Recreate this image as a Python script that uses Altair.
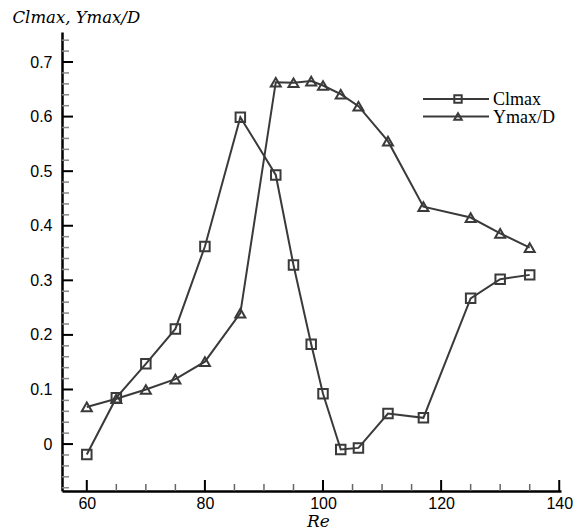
import altair as alt
import pandas as pd

re_vals = [60, 65, 70, 75, 80, 86, 92, 95, 98, 100, 103, 106, 111, 117, 125, 130, 135]
clmax = [-0.019, 0.085, 0.147, 0.211, 0.362, 0.599, 0.493, 0.328, 0.183, 0.092,
         -0.010, -0.007, 0.056, 0.048, 0.267, 0.302, 0.310]
ymax_d = [0.068, 0.083, 0.100, 0.119, 0.151, 0.240, 0.663, 0.662, 0.665, 0.657,
          0.641, 0.619, 0.555, 0.435, 0.415, 0.386, 0.360]

x_major = [60, 80, 100, 120, 140]
x_minor = [65, 70, 75, 85, 90, 95, 105, 110, 115, 125, 130, 135]
y_major = [0.0, 0.1, 0.2, 0.3, 0.4, 0.5, 0.6, 0.7]
y_minor = [v / 100 for v in range(-8, 76, 2) if v % 10 != 0]

series_names = ["Clmax", "Ymax/D"]

W, H = 499, 459
INK = "#3a3a3a"
SERIF = "Liberation Serif"
SERIF_IT = "DejaVu Serif"

xscale = alt.Scale(domain=[55.8, 140.3], nice=False, zero=False)
yscale = alt.Scale(domain=[-0.086, 0.755], nice=False, zero=False)

x_axis = alt.Axis(
    values=x_major, ticks=False, grid=False, domainColor="black", domainWidth=2.5,
    labelFont="Liberation Sans", labelFontSize=16, labelColor="black", labelPadding=4,
    title="Re", titleFont=SERIF_IT, titleFontStyle="italic",
    titleFontWeight="normal", titleFontSize=17, titleColor="black",
    titleX=256, titleY=30, titleBaseline="middle", titleAlign="center",
)
y_axis = alt.Axis(
    values=y_major, format=".1~f", ticks=False, grid=False, domainColor="black",
    domainWidth=2.5, labelFont="Liberation Sans", labelFontSize=16, labelColor="black",
    labelPadding=10, title="Clmax, Ymax/D", titleFont=SERIF_IT,
    titleFontStyle="italic", titleFontWeight="normal", titleFontSize=16.5,
    titleColor="black", titleAngle=0, titleX=-50, titleY=-15, titleAlign="left",
    titleBaseline="middle",
)


def X(field):
    return alt.X(field, scale=xscale, axis=x_axis, title="Re")


def Y(field):
    return alt.Y(field, scale=yscale, axis=y_axis, title="Clmax, Ymax/D")


df = pd.DataFrame({"Re": re_vals, "Clmax": clmax, "Ymax": ymax_d})
base = alt.Chart(df)

line_cl = base.mark_line(color=INK, strokeWidth=2).encode(x=X("Re:Q"), y=Y("Clmax:Q"))
line_ym = base.mark_line(color=INK, strokeWidth=2).encode(x=X("Re:Q"), y=Y("Ymax:Q"))
pts_cl = base.mark_point(shape="square", filled=False, size=90, strokeWidth=2,
                         color=INK, opacity=1).encode(x=X("Re:Q"), y=Y("Clmax:Q"))
pts_ym = base.mark_point(shape="triangle-up", filled=False, size=100, strokeWidth=2,
                         color=INK, opacity=1).encode(x=X("Re:Q"), y=Y("Ymax:Q"))

# inward ticks
ymaj = alt.Chart(pd.DataFrame({"t": y_major})).mark_rule(color="black", strokeWidth=2).encode(
    y=Y("t:Q"), x=alt.value(0), x2=alt.value(11))
ymin = alt.Chart(pd.DataFrame({"t": y_minor})).mark_rule(color="#888888", strokeWidth=1.5).encode(
    y=Y("t:Q"), x=alt.value(0), x2=alt.value(7))
xmaj = alt.Chart(pd.DataFrame({"t": x_major})).mark_rule(color="black", strokeWidth=2).encode(
    x=X("t:Q"), y=alt.value(H), y2=alt.value(H - 11))
xmin = alt.Chart(pd.DataFrame({"t": x_minor})).mark_rule(color="#666666", strokeWidth=1.5).encode(
    x=X("t:Q"), y=alt.value(H), y2=alt.value(H - 7))

# legend
one = alt.Data(values=[{}])
leg_layers = []
for i, (name, shape) in enumerate(zip(series_names, ["square", "triangle-up"])):
    yy = 67 + i * 17.5
    leg_layers.append(alt.Chart(one).mark_rule(color=INK, strokeWidth=2).encode(
        x=alt.value(361), x2=alt.value(427), y=alt.value(yy)))
    leg_layers.append(alt.Chart(one).mark_point(shape=shape, filled=False, size=55, strokeWidth=2,
                                               color=INK, opacity=1).encode(
        x=alt.value(396), y=alt.value(yy)))
    leg_layers.append(alt.Chart(one).mark_text(text=name, align="left", baseline="middle",
                                              font=SERIF, fontSize=18, color="black").encode(
        x=alt.value(431), y=alt.value(yy + 1)))

chart = alt.layer(
    line_cl, line_ym, pts_cl, pts_ym, ymaj, ymin, xmaj, xmin, *leg_layers
).properties(
    width=W, height=H,
    padding={"left": 62, "top": 32, "right": 19, "bottom": 40},
    autosize=alt.AutoSizeParams(type="none"),
).configure(background="white", view=alt.ViewConfig(stroke=None))

chart.save("out.html", embed_options={"renderer": "svg", "actions": False})
